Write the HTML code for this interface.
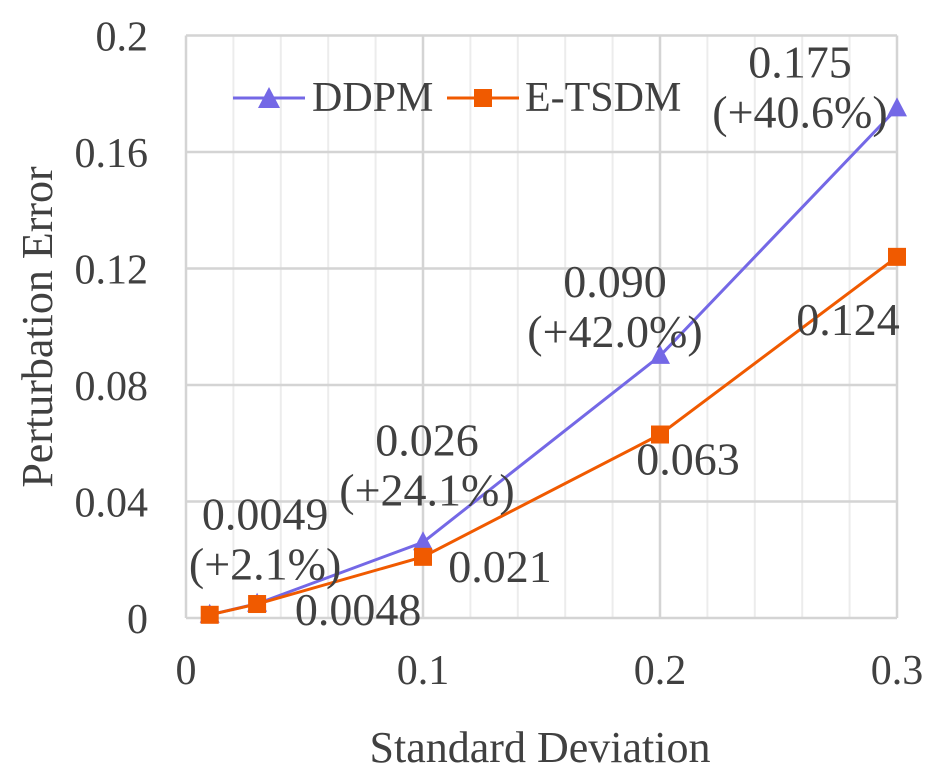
<!DOCTYPE html>
<html><head><meta charset="utf-8"><style>
body{margin:0;background:#fff}
svg{display:block;font-family:"Liberation Serif",serif;fill:#404040}
</style></head><body>
<svg id="chart" width="926" height="772">
<g id="grid"></g><g id="axes"></g><g id="series"></g><g id="labels"></g>
<g>
<g>
<line x1="233" y1="98" x2="305" y2="98" stroke="#7468E6" stroke-width="3"/>
<polygon points="269,87 258,108 280,108" fill="#7468E6"/>
<text x="312" y="111" font-size="42">DDPM</text></g>
<g>
<line x1="447" y1="98" x2="519" y2="98" stroke="#F05A00" stroke-width="3"/>
<rect x="474" y="89" width="18" height="18" fill="#F05A00"/>
<text x="525" y="111" font-size="42">E-TSDM</text></g>
</g>
<text x="540" y="762" font-size="44" text-anchor="middle">Standard Deviation</text>
<text transform="translate(52,327) rotate(-90)" font-size="44" text-anchor="middle">Perturbation Error</text>
</svg>
<script>
const xs=[0.01,0.03,0.1,0.2,0.3];
const ddpm=[0.0011,0.0049,0.026,0.090,0.175];
const etsdm=[0.0011,0.0048,0.021,0.063,0.124];
const xTicks=[0,0.1,0.2,0.3];
const yTicks=[0,0.04,0.08,0.12,0.16,0.2];
const yTickLabels=["0","0.04","0.08","0.12","0.16","0.2"];
const ddpmLabels=[["0.0049","(+2.1%)"],["0.026","(+24.1%)"],["0.090","(+42.0%)"],["0.175","(+40.6%)"]];
const etsdmLabels=["0.0048","0.021","0.063","0.124"];
const NS="http://www.w3.org/2000/svg";
const X=v=>186+v/0.3*711, Y=v=>618-v/0.2*582.5;
function mk(p,t,a){const e=document.createElementNS(NS,t);for(const k in a)e.setAttribute(k,a[k]);document.getElementById(p).appendChild(e);return e;}
for(let i=1;i<15;i++){const v=i*0.02;if(Math.abs(v*10-Math.round(v*10))<1e-6)continue;
const l=mk('grid','line',{x1:X(v),x2:X(v),y1:Y(0.2),y2:Y(0),stroke:'#ececec','stroke-width':2});

}
xTicks.forEach(v=>{const l=mk('grid','line',{x1:X(v),x2:X(v),y1:Y(0.2),y2:Y(0),stroke:'#d4d4d4','stroke-width':2.5});


const t=mk('axes','text',{x:X(v),y:684,'font-size':42,'text-anchor':'middle'});t.textContent=String(v);

});
yTicks.forEach((v,i)=>{const l=mk('grid','line',{x1:X(0),x2:X(0.3),y1:Y(v),y2:Y(v),stroke:'#d4d4d4','stroke-width':2.5});


const t=mk('axes','text',{x:148,y:Y(v)+15,'font-size':42,'text-anchor':'end'});t.textContent=yTickLabels[i];

});
function series(vals,col,name,tri){
const p=mk('series','polyline',{points:vals.map((v,i)=>X(xs[i])+','+Y(v)).join(' '),fill:'none',stroke:col,'stroke-width':3});


vals.forEach((v,i)=>{const x=X(xs[i]),y=Y(v);let m;
if(tri)m=mk('series','polygon',{points:`${x},${y-11} ${x-10},${y+8} ${x+10},${y+8}`,fill:col});
else m=mk('series','rect',{x:x-9,y:y-9,width:18,height:18,fill:col});

});}
series(ddpm,'#7468E6','ddpm',true);
series(etsdm,'#F05A00','etsdm',false);
const dOff=[[8,-74],[4,-87],[-45,-59],[-97,-31]];
ddpmLabels.forEach((lb,j)=>{const i=j+1,x=X(xs[i])+dOff[j][0],y=Y(ddpm[i])+dOff[j][1];
lb.forEach((s,k)=>{const t=mk('labels','text',{x:x,y:y+k*50,'font-size':46,'text-anchor':'middle'});t.textContent=s;

});});
const eOff=[[101,21],[77,25],[28,40],[-49,78]];
etsdmLabels.forEach((s,j)=>{const i=j+1;const t=mk('labels','text',{x:X(xs[i])+eOff[j][0],y:Y(etsdm[i])+eOff[j][1],'font-size':46,'text-anchor':'middle'});t.textContent=s;

});
</script>
</body></html>
